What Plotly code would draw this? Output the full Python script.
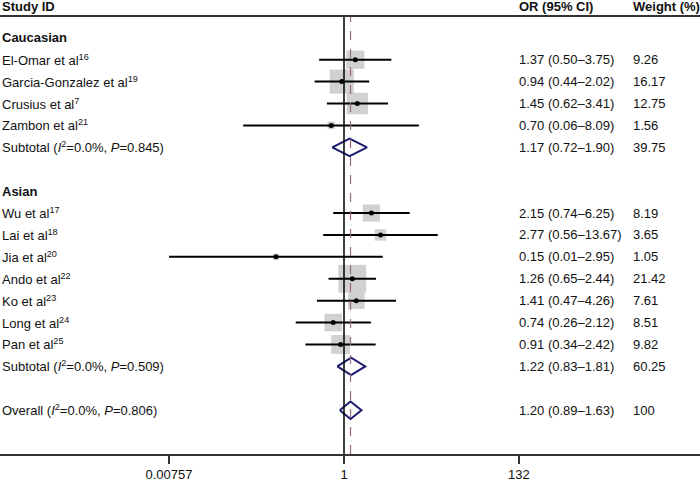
import math
import plotly.graph_objects as go

# ---------------- data ----------------
cau_studies = ["El-Omar et al<sup>16</sup>", "Garcia-Gonzalez et al<sup>19</sup>",
               "Crusius et al<sup>7</sup>", "Zambon et al<sup>21</sup>"]
cau_or = [1.37, 0.94, 1.45, 0.70]
cau_lo = [0.50, 0.44, 0.62, 0.06]
cau_hi = [3.75, 2.02, 3.41, 8.09]
cau_w = [9.26, 16.17, 12.75, 1.56]
cau_sub = {"label": "Subtotal (<i>I</i><sup>2</sup>=0.0%, <i>P</i>=0.845)",
           "or": 1.17, "lo": 0.72, "hi": 1.90, "w": "39.75"}

asi_studies = ["Wu et al<sup>17</sup>", "Lai et al<sup>18</sup>", "Jia et al<sup>20</sup>",
               "Ando et al<sup>22</sup>", "Ko et al<sup>23</sup>", "Long et al<sup>24</sup>",
               "Pan et al<sup>25</sup>"]
asi_or = [2.15, 2.77, 0.15, 1.26, 1.41, 0.74, 0.91]
asi_lo = [0.74, 0.56, 0.00757, 0.65, 0.47, 0.26, 0.34]
asi_hi = [6.25, 13.67, 2.95, 2.44, 4.26, 2.12, 2.42]
asi_w = [8.19, 3.65, 1.05, 21.42, 7.61, 8.51, 9.82]
asi_sub = {"label": "Subtotal (<i>I</i><sup>2</sup>=0.0%, <i>P</i>=0.509)",
           "or": 1.22, "lo": 0.83, "hi": 1.81, "w": "60.25"}

overall = {"label": "Overall (<i>I</i><sup>2</sup>=0.0%, <i>P</i>=0.806)",
           "or": 1.20, "lo": 0.89, "hi": 1.63, "w": "100"}

header_labels = ["Study ID", "OR (95% CI)", "Weight (%)"]
tick_vals = [0.00757, 1, 132]
tick_text = ["0.00757", "1", "132"]

# ---------------- layout of rows ----------------
FONT = "Liberation Sans, Arial, sans-serif"
TXT = "#111111"
annots = []

def text(xp, y, s, bold=False, yref="y"):
    annots.append(dict(x=xp, xref="paper", y=y, yref=yref,
                       text=("<b>%s</b>" % s) if bold else s,
                       showarrow=False, xanchor="left", yanchor="middle",
                       font=dict(size=13, color=TXT, family=FONT)))

def fmt_ci(o, l, h):
    return "%.2f (%.2f\u2013%.2f)" % (o, l, h)

X_OR = 517.0 / 700
X_W = 631.0 / 700

study_rows, study_or, study_lo, study_hi, study_w = [], [], [], [], []
diamonds = []

row = 1
groups = [("Caucasian", cau_studies, cau_or, cau_lo, cau_hi, cau_w, cau_sub),
          ("Asian", asi_studies, asi_or, asi_lo, asi_hi, asi_w, asi_sub)]
for name, st, o, lo, hi, w, sub in groups:
    text(0.0, row, name, bold=True)
    row += 1
    for i in range(len(st)):
        text(0.0, row, st[i])
        text(X_OR, row, fmt_ci(o[i], lo[i], hi[i]))
        text(X_W, row, "%.2f" % w[i])
        study_rows.append(row); study_or.append(o[i]); study_lo.append(lo[i])
        study_hi.append(hi[i]); study_w.append(w[i])
        row += 1
    text(0.0, row, sub["label"])
    text(X_OR, row, fmt_ci(sub["or"], sub["lo"], sub["hi"]))
    text(X_W, row, sub["w"])
    diamonds.append((row, sub))
    row += 2
text(0.0, row, overall["label"])
text(X_OR, row, fmt_ci(overall["or"], overall["lo"], overall["hi"]))
text(X_W, row, overall["w"])
diamonds.append((row, overall))

HDR_Y = (458 - 6) / 441.0
for xp, s in zip([0.0, X_OR, X_W], header_labels):
    text(xp, HDR_Y, s, bold=True, yref="paper")

fig = go.Figure()

# weight squares
fig.add_trace(go.Scatter(
    x=study_or, y=study_rows, mode="markers",
    marker=dict(symbol="square", color="#BDBDBD",
                size=[6.0 * math.sqrt(w) for w in study_w], line=dict(width=0)),
    hoverinfo="skip", showlegend=False))

# CI lines
cx, cy = [], []
for r, l, h in zip(study_rows, study_lo, study_hi):
    cx += [l, h, None]; cy += [r, r, None]
fig.add_trace(go.Scatter(x=cx, y=cy, mode="lines", line=dict(color="black", width=2),
                         hoverinfo="skip", showlegend=False))

# point estimates
fig.add_trace(go.Scatter(x=study_or, y=study_rows, mode="markers",
                         marker=dict(symbol="circle", color="black", size=5),
                         hoverinfo="skip", showlegend=False))

# diamonds
H = 0.4
for r, d in diamonds:
    fig.add_trace(go.Scatter(
        x=[d["lo"], d["or"], d["hi"], d["or"], d["lo"]],
        y=[r, r - H, r, r + H, r], mode="lines",
        line=dict(color="#1B1B6E", width=2), hoverinfo="skip", showlegend=False))

# reference lines
fig.add_shape(type="line", x0=1, x1=1, xref="x", y0=0, y1=1, yref="paper",
              line=dict(color="black", width=1.5))
fig.add_shape(type="line", x0=overall["or"], x1=overall["or"], xref="x", y0=0, y1=1,
              yref="paper", line=dict(color="#9A6A7E", width=1.2, dash="dash"))

fig.update_layout(
    width=700, height=482,
    margin=dict(l=0, r=0, t=17, b=24),
    paper_bgcolor="white", plot_bgcolor="white",
    font=dict(family=FONT, size=13, color=TXT),
    annotations=annots,
    xaxis=dict(type="log", range=[-344 / 82.5, 356 / 82.5],
               tickvals=tick_vals, ticktext=tick_text,
               ticks="outside", ticklen=8, tickwidth=1.5, tickcolor="#333333",
               showline=True, linecolor="#333333", linewidth=1.5, mirror=True,
               showgrid=False, zeroline=False,
               tickfont=dict(size=13, color=TXT, family=FONT)),
    yaxis=dict(range=[20.0, 0.05], showgrid=False, zeroline=False, showline=False,
               showticklabels=False, ticks=""),
)

fig.write_html("out.html", config={"displayModeBar": False},
               post_script="document.body.style.margin='0px';")
